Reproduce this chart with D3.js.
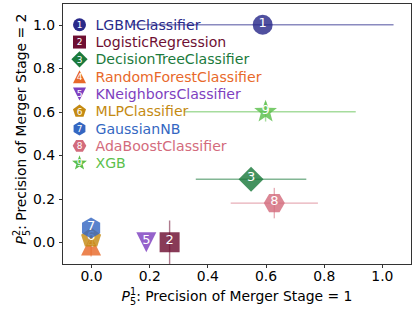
<!DOCTYPE html>
<html>
<head>
<meta charset="utf-8">
<script src="https://d3js.org/d3.v7.min.js"></script>
<style>
  body { margin: 0; background: #fff; }
  svg { font-family: "DejaVu Sans", sans-serif; }
  .axis path, .axis line { stroke: #333; shape-rendering: crispEdges; }
  .axis text { font-size: 13.9px; fill: #000; font-family: "DejaVu Sans", sans-serif; }
</style>
</head>
<body>
<svg width="415" height="311"></svg>
<script>
// model names, in legend order
const models = ["LGBMClassifier", "LogisticRegression", "DecisionTreeClassifier",
  "RandomForestClassifier", "KNeighborsClassifier", "MLPClassifier",
  "GaussianNB", "AdaBoostClassifier", "XGB"];
// precision at merger stage 1 (x) and 2 (y)
const p1 = [0.59, 0.27, 0.55, 0.0, 0.19, 0.0, 0.0, 0.63, 0.60];
const p2 = [1.0, 0.0, 0.29, -0.015, 0.0, 0.02, 0.065, 0.18, 0.60];
// error ranges
const p1Lo = [0.14, 0.27, 0.36, 0.0, 0.19, 0.0, 0.0, 0.48, 0.32];
const p1Hi = [1.04, 0.27, 0.74, 0.0, 0.19, 0.0, 0.0, 0.78, 0.91];
const p2Lo = [1.0, -0.1, 0.29, -0.065, 0.0, 0.02, 0.065, 0.11, 0.555];
const p2Hi = [1.0, 0.1, 0.29, 0.045, 0.0, 0.02, 0.065, 0.25, 0.645];
const colors = ["#2a2a8a", "#6e0f32", "#1b7a3c", "#e8692a", "#7e3fc0",
  "#c48a12", "#3467c2", "#d36b7c", "#5cbf4c"];
const shapes = ["circle", "square", "diamond", "triUp", "triDown", "pentagon", "hexV", "hexH", "star"];
const xTicks = [0.0, 0.2, 0.4, 0.6, 0.8, 1.0];
const yTicks = [0.0, 0.2, 0.4, 0.6, 0.8, 1.0];

const margin = { top: 3, right: 4, bottom: 47, left: 62 };
const W = 415, H = 311;
const svg = d3.select("svg");

const x = d3.scaleLinear().domain([-0.1, 1.1]).range([margin.left, W - margin.right]);
const y = d3.scaleLinear().domain([-0.1, 1.1]).range([H - margin.bottom, margin.top]);

// marker path, r = half size
function shapePath(kind, r) {
  function poly(n, rad, rot) {
    let pts = [];
    for (let i = 0; i < n; i++) {
      const a = rot + i * 2 * Math.PI / n;
      pts.push([rad * Math.sin(a), -rad * Math.cos(a)]);
    }
    return "M" + pts.map(p => p[0].toFixed(2) + "," + p[1].toFixed(2)).join("L") + "Z";
  }
  if (kind === "circle") return d3.symbol(d3.symbolCircle, Math.PI * r * r)();
  if (kind === "square") return `M${-r},${-r}H${r}V${r}H${-r}Z`;
  if (kind === "diamond") return poly(4, r * 1.25, 0);
  if (kind === "triUp") return `M0,${-r}L${r},${r}L${-r},${r}Z`;
  if (kind === "triDown") return `M0,${r}L${r},${-r}L${-r},${-r}Z`;
  if (kind === "pentagon") return poly(5, r * 1.05, 0);
  if (kind === "hexV") return poly(6, r * 1.05, 0);
  if (kind === "hexH") return poly(6, r * 1.05, Math.PI / 6);
  if (kind === "star") {
    let pts = [];
    for (let i = 0; i < 10; i++) {
      const a = i * Math.PI / 5;
      const rad = i % 2 === 0 ? r * 1.2 : r * 0.5;
      pts.push([rad * Math.sin(a), -rad * Math.cos(a)]);
    }
    return "M" + pts.map(p => p[0].toFixed(2) + "," + p[1].toFixed(2)).join("L") + "Z";
  }
}

// frame
svg.append("rect")
  .attr("x", margin.left).attr("y", margin.top)
  .attr("width", W - margin.left - margin.right)
  .attr("height", H - margin.top - margin.bottom)
  .attr("fill", "none").attr("stroke", "#333").attr("stroke-width", 1)
  .attr("shape-rendering", "crispEdges");

// axes
svg.append("g").attr("class", "axis")
  .attr("transform", `translate(0,${H - margin.bottom})`)
  .call(d3.axisBottom(x).tickValues(xTicks).tickFormat(d3.format(".1f")).tickSize(3.5).tickPadding(3.5))
  .call(g => g.select(".domain").remove());
svg.append("g").attr("class", "axis")
  .attr("transform", `translate(${margin.left},0)`)
  .call(d3.axisLeft(y).tickValues(yTicks).tickFormat(d3.format(".1f")).tickSize(3.5).tickPadding(3.5))
  .call(g => g.select(".domain").remove());

const plot = svg.append("g");
const idx = d3.range(models.length);

const legendRow = 17.3;
const legendY0 = y(1.0);

// error bars
idx.forEach(i => {
  if (p1Hi[i] > p1Lo[i]) {
    plot.append("line")
      .attr("x1", x(p1Lo[i])).attr("x2", x(p1Hi[i]))
      .attr("y1", y(p2[i])).attr("y2", y(p2[i]))
      .attr("stroke", colors[i]).attr("stroke-opacity", 0.55).attr("stroke-width", 1.4);
  }
  if (p2Hi[i] > p2Lo[i]) {
    plot.append("line")
      .attr("x1", x(p1[i])).attr("x2", x(p1[i]))
      .attr("y1", y(p2Lo[i])).attr("y2", Math.max(y(p2Hi[i]), 0))
      .attr("stroke", colors[i]).attr("stroke-opacity", 0.55).attr("stroke-width", 1.4);
  }
});

// markers, drawn in this order so the labels stack like the original
const order = [3, 5, 6, 4, 1, 7, 2, 8, 0];
order.forEach(i => {
  const g = plot.append("g").attr("transform", `translate(${x(p1[i])},${y(p2[i])})`);
  g.append("path").attr("d", shapePath(shapes[i], 10))
    .attr("fill", colors[i]).attr("fill-opacity", 0.82);
  g.append("text").attr("text-anchor", "middle").attr("dy", "0.3em")
    .attr("y", -2)
    .attr("fill", "#fff").attr("font-size", 13)
    .text(i + 1);
});

// legend
const legend = svg.append("g");
idx.forEach(i => {
  const cy = legendY0 + i * legendRow;
  const g = legend.append("g").attr("transform", `translate(79.5,${cy})`);
  g.append("path").attr("d", shapePath(shapes[i], 6.5)).attr("fill", colors[i]);
  g.append("text").attr("text-anchor", "middle").attr("dy", "0.36em")
    .attr("fill", "#fff").attr("font-size", 9)
    .text(i + 1);
  legend.append("text").attr("x", 95.5).attr("y", cy).attr("dy", "0.36em")
    .attr("fill", colors[i]).attr("font-size", 14.1)
    .text(models[i]);
});

// axis labels with stacked super/subscripts
function mathLabel(sel, sup, rest) {
  sel.append("tspan").attr("font-style", "italic").text("P");
  sel.append("tspan").attr("font-size", 9.7).attr("dy", -6).text(sup);
  sel.append("tspan").attr("font-size", 9.7).attr("dx", -6.2).attr("dy", 10).text("5");
  sel.append("tspan").attr("dy", -4).text(rest);
}
const xl = svg.append("text").attr("x", (margin.left + W - margin.right) / 2 + 0.5)
  .attr("y", 301).attr("text-anchor", "middle").attr("font-size", 13.9);
mathLabel(xl, "1", ": Precision of Merger Stage = 1");

const yl = svg.append("text")
  .attr("transform", `translate(26,${129}) rotate(-90)`)
  .attr("text-anchor", "middle").attr("font-size", 13.9);
mathLabel(yl, "2", ": Precision of Merger Stage = 2");
</script>
</body>
</html>
